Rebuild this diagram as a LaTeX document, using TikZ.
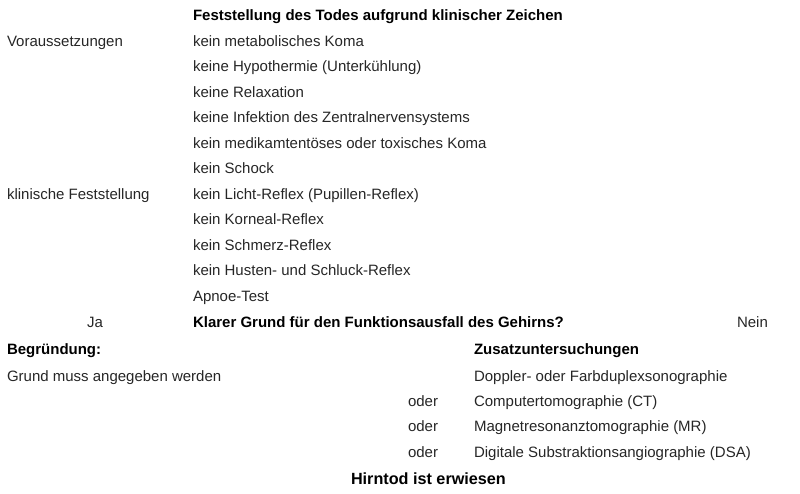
\documentclass[tikz,border=0pt]{standalone}
\usepackage{fontspec}
\setmainfont{Liberation Sans}
\begin{document}
\begin{tikzpicture}[x=1bp,y=-1bp,
  txt/.style={anchor=base west,inner sep=0pt,outer sep=0pt,font=\fontsize{15bp}{18bp}\selectfont,text=black!85},
  bold/.style={txt,font=\fontsize{15bp}{18bp}\selectfont\bfseries,text=black},
  big/.style={txt,font=\fontsize{16.2bp}{19bp}\selectfont\bfseries,text=black}]
\useasboundingbox (0,0) rectangle (800,494);
\begin{scope}[yshift=-1.5bp]
\node[bold] (title) at (193,19) {Feststellung des Todes aufgrund klinischer Zeichen};
\node[txt] (vor) at (7,45) {Voraussetzungen};
\node[txt] (v1) at (193,45) {kein metabolisches Koma};
\node[txt] (v2) at (193,70.5) {keine Hypothermie (Unterkühlung)};
\node[txt] (v3) at (193,96) {keine Relaxation};
\node[txt] (v4) at (193,121.5) {keine Infektion des Zentralnervensystems};
\node[txt] (v5) at (193,147) {kein medikamtentöses oder toxisches Koma};
\node[txt] (v6) at (193,172.5) {kein Schock};
\node[txt] (kf) at (7,198) {klinische Feststellung};
\node[txt] (k1) at (193,198) {kein Licht-Reflex (Pupillen-Reflex)};
\node[txt] (k2) at (193,223.5) {kein Korneal-Reflex};
\node[txt] (k3) at (193,249) {kein Schmerz-Reflex};
\node[txt] (k4) at (193,274.5) {kein Husten- und Schluck-Reflex};
\node[txt] (k5) at (193,300) {Apnoe-Test};
\node[txt] (ja) at (87,326) {Ja};
\node[bold] (frage) at (193,326) {Klarer Grund für den Funktionsausfall des Gehirns?};
\node[txt] (nein) at (737,326) {Nein};
\node[bold] (begr) at (7,353) {Begründung:};
\node[bold] (zus) at (474,353) {Zusatzuntersuchungen};
\node[txt] (grund) at (7,379.5) {Grund muss angegeben werden};
\node[txt] (z1) at (474,379.5) {Doppler- oder Farbduplexsonographie};
\node[txt] (o2) at (408,404.5) {oder};
\node[txt] (z2) at (474,404.5) {Computertomographie (CT)};
\node[txt] (o3) at (408,430) {oder};
\node[txt] (z3) at (474,430) {Magnetresonanztomographie (MR)};
\node[txt] (o4) at (408,456) {oder};
\node[txt] (z4) at (474,456) {Digitale Substraktionsangiographie (DSA)};
\node[big] (hirn) at (351,483) {Hirntod ist erwiesen};
\end{scope}
\end{tikzpicture}
\end{document}
